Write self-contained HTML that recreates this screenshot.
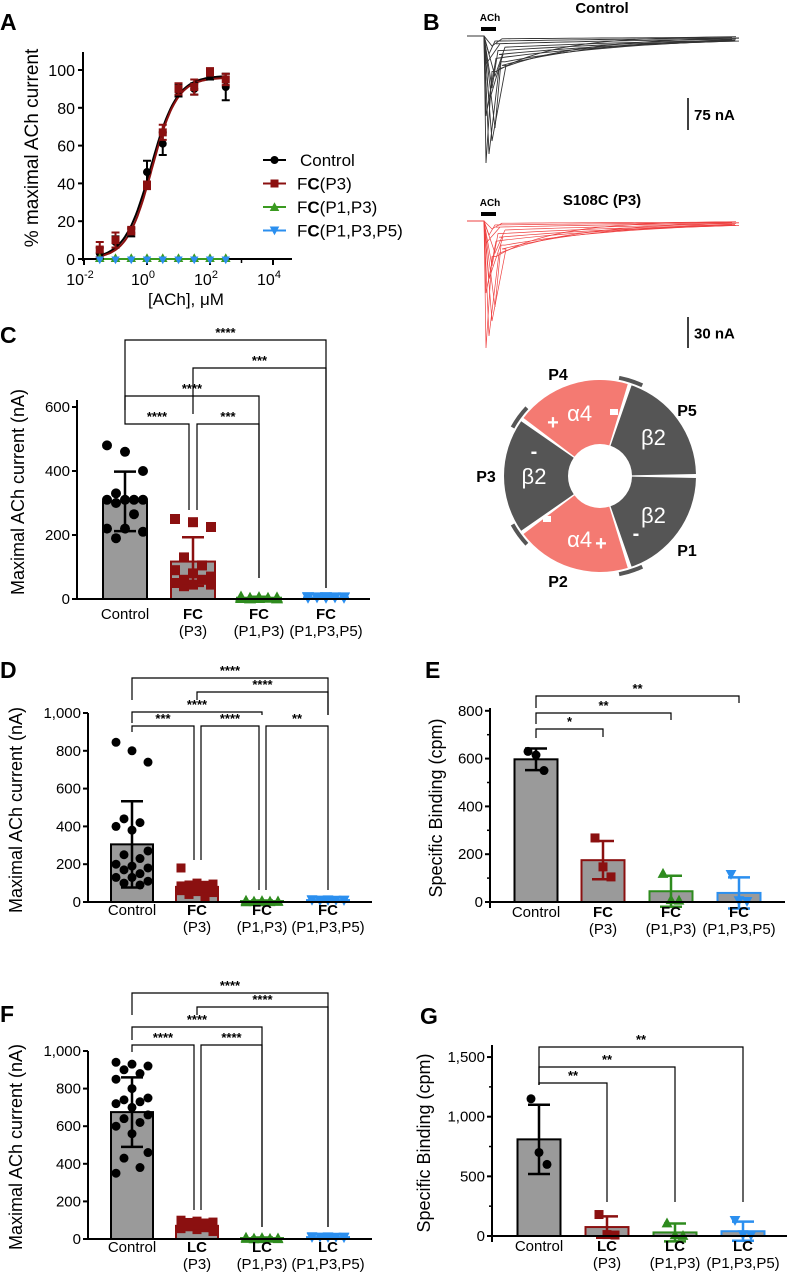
<!DOCTYPE html>
<html><head><meta charset="utf-8"><style>
body{margin:0;background:#fff}
svg{display:block;font-family:"Liberation Sans",Arial,sans-serif}
.n{font-family:"Liberation Sans Narrow","Liberation Sans",sans-serif}
</style></head><body>
<svg id="fig" width="791" height="1274" viewBox="0 0 791 1274">
<g font-weight="bold" font-size="23">
<text x="0" y="30">A</text><text x="423" y="30">B</text><text x="0" y="343">C</text>
<text x="0" y="678">D</text><text x="425" y="678">E</text><text x="0" y="1022">F</text><text x="420" y="1024">G</text>
</g>
</svg>
<script>
// ---------- Panel A data ----------
const aLogConc=[-1.5,-1,-0.5,0,0.5,1,1.5,2,2.5];
const aControl=[3,9,14,46,61,89,90,97,91];
const aControlErr=[3,3,2,6,6,3,3,2,7];
const aFCP3=[5,10,15,39,67,90,91,99,95];
const aFCP3Err=[4,4,2,2,4,3,4,2,3];
const aFCP1P3=[0,0,0,0,0,0,0,0,0];
const aFCP1P3P5=[0,0,0,0,0,0,0,0,0];
const aYTicks=[0,20,40,60,80,100];
const aXTicks=[-2,0,2,4];
// ---------- Panel C data ----------
const cMeans=[305,117,4,5];
const cSDs=[93,76,3,3];
const cPts=[[480,460,400,330,310,310,310,310,300,265,220,220,210,190],[250,240,225,130,105,90,80,70,60,60,50,45,45,40],[8,6,5,4,4,3,3,2,2],[6,6,5,5,5,4,4,4]];
const cTicks=[0,200,400,600];
// ---------- Panel D data ----------
const dMeans=[305,80,5,10];
const dSDs=[228,25,3,3];
const dPts=[[845,800,740,440,420,400,380,270,250,230,200,190,180,170,150,130,130,110,100,90],[180,100,95,90,88,85,80,75,70,65,60,55,50,40,20],[10,8,6,5,5,4,3,3,2,2,1,1],[12,11,10,10,9,9,8,8,7]];
const dTicks=[0,200,400,600,800,1000];
const dTickLabels=["0","200","400","600","800","1,000"];
// ---------- Panel E data ----------
const eMeans=[597,175,45,38];
const eSDs=[45,80,65,65];
const ePts=[[630,615,550],[268,147,105],[120,10,8],[115,5,2]];
const eTicks=[0,200,400,600,800];
// ---------- Panel F data ----------
const fMeans=[675,70,5,10];
const fSDs=[185,15,3,3];
const fPts=[[940,930,920,900,880,850,800,750,740,730,720,700,660,640,620,600,560,460,430,380,350],[100,95,90,88,85,80,75,70,65,60,55,50,40],[10,8,6,5,4,3,2,2,1],[12,11,10,10,9,8,8,7]];
const fTicks=[0,200,400,600,800,1000];
// ---------- Panel G data ----------
const gMeans=[810,75,30,40];
const gSDs=[290,90,75,80];
const gPts=[[1150,700,600],[180,12,8],[110,10,5],[130,10,5]];
const gTicks=[0,500,1000,1500];
const gTickLabels=["0","500","1,000","1,500"];
// ---------- Panel B trace amplitudes (px) ----------
const bCtrlPeaks=[127,118,105,92,80,66,52,40,28,18,10];
const bRedPeaks=[127,115,100,86,72,58,45,32,22,14,8];

const NS="http://www.w3.org/2000/svg";
const svg=document.getElementById('fig');
function mk(tag,at,parent){const e=document.createElementNS(NS,tag);for(const k in at)e.setAttribute(k,at[k]);(parent||svg).appendChild(e);return e;}
function txt(s,at,parent){const e=mk('text',at,parent);e.textContent=s;return e;}
function grp(name){const g=mk('g',{});


return g;}
const COLS=['#000','#8b1010','#2e8b1e','#2b8fef'];
const FILLS=['#9a9a9a','#9a9a9a','#9a9a9a','#9a9a9a'];
function marker(g,shape,x,y,s,c){
 if(shape===0) return mk('circle',{cx:x,cy:y,r:s,fill:c},g);
 if(shape===1) return mk('rect',{x:x-s,y:y-s,width:2*s,height:2*s,fill:c},g);
 if(shape===2) return mk('polygon',{points:`${x},${y-s*1.2} ${x-s*1.2},${y+s} ${x+s*1.2},${y+s}`,fill:c},g);
 return mk('polygon',{points:`${x},${y+s*1.2} ${x-s*1.2},${y-s} ${x+s*1.2},${y-s}`,fill:c},g);
}

// ================= Panel A =================
(function(){
 const g=grp('dose-response-chart');
 const X=v=>147+v*31.5, Y=v=>259-v*1.89;
 mk('line',{x1:83,y1:52,x2:83,y2:261,stroke:'#000','stroke-width':2},g);
 mk('line',{x1:82,y1:259,x2:292,y2:259,stroke:'#000','stroke-width':2},g);
 aYTicks.forEach(t=>{mk('line',{x1:78,y1:Y(t),x2:83,y2:Y(t),stroke:'#000','stroke-width':2},g);
  txt(String(t),{x:75,y:Y(t)+6,'text-anchor':'end','font-size':16},g);});
 aXTicks.forEach(t=>{mk('line',{x1:X(t),y1:259,x2:X(t),y2:265,stroke:'#000','stroke-width':2},g);
  const e=txt('10',{x:X(t)-4,y:285,'text-anchor':'middle','font-size':16},g);
  const s=mk('tspan',{dy:-7,'font-size':11},e);s.textContent=String(t);});
 [-1,1,3].forEach(t=>mk('line',{x1:X(t),y1:259,x2:X(t),y2:263,stroke:'#000','stroke-width':1.5},g));
 const yt=txt('% maximal ACh current',{x:0,y:0,'text-anchor':'middle','font-size':19,transform:'translate(38,148) rotate(-90)'},g);
 
 txt('[ACh], μM',{x:186,y:305,'text-anchor':'middle','font-size':17},g);
 const hill=(x,top,ec,n)=>top/(1+Math.pow(10,(ec-x)*n));
 [[97,0.12,1.05,'#000'],[96,0.16,1.1,'#8b1010']].forEach(p=>{let d='';
  for(let x=-1.5;x<=2.5;x+=0.05)d+=(d?'L':'M')+X(x).toFixed(1)+','+Y(hill(x,p[0],p[1],p[2])).toFixed(1);
  mk('path',{d,fill:'none',stroke:p[3],'stroke-width':2},g);});
 mk('line',{x1:X(-1.5),y1:Y(0),x2:X(2.5),y2:Y(0),stroke:'#3a9a20','stroke-width':2},g);
 [[aControl,aControlErr,0],[aFCP3,aFCP3Err,1]].forEach(([v,e,k])=>{
  aLogConc.forEach((lc,i)=>{const x=X(lc);
   mk('path',{d:`M${x},${Y(v[i]+e[i])}V${Y(v[i]-e[i])}M${x-4},${Y(v[i]+e[i])}h8M${x-4},${Y(v[i]-e[i])}h8`,stroke:COLS[k],'stroke-width':2,fill:'none'},g);
   marker(g,k,x,Y(v[i]),4,COLS[k]);});});
 aLogConc.forEach((lc,i)=>{marker(g,2,X(lc),Y(aFCP1P3[i])-1,4,'#3a9a20');marker(g,3,X(lc),Y(aFCP1P3P5[i])+1,3.5,'#2b8fef');});
 const leg=[['Control','',0,'#000'],['F','C(P3)',1,'#8b1010'],['F','C(P1,P3)',2,'#3a9a20'],['F','C(P1,P3,P5)',3,'#2b8fef']];
 leg.forEach((l,i)=>{const y=160+i*23.5;const lg=mk('g',{},g);
  
  
  mk('line',{x1:263,y1:y,x2:286,y2:y,stroke:l[3],'stroke-width':2},lg);marker(lg,l[2],274.5,y,4,l[3]);
  const t=txt('',{x:i?297:300,y:y+6,'font-size':17},lg);
  if(i===0)t.textContent='Control';else{const a=mk('tspan',{},t);a.textContent='F';const b=mk('tspan',{'font-weight':'bold'},t);b.textContent='C';const c=mk('tspan',{},t);c.textContent=l[1].slice(1);}});
})();

// ================= Panel B =================
(function(){
 const g=grp('current-traces');
 function traces(base,peaks,col,title,ty,sy1,sy2,slab,w){
  txt(title,{x:602,y:ty,'text-anchor':'middle','font-size':15,'font-weight':'bold'},g);
  txt('ACh',{x:490,y:base-15,'text-anchor':'middle','font-size':10,'font-weight':'bold'},g);
  mk('rect',{x:481,y:base-9,width:15,height:4,fill:'#000'},g);
  peaks.forEach((p,i)=>{const px=486+(i%4)*3;const plateau=p*0.28;const tau=60+i*25;
   let d=`M467,${base}L484,${base}L${px},${base+p}L${px+6+i%3*4},${base+plateau}`;
   for(let x=px+10;x<=740;x+=10)d+=`L${x},${(base+plateau*Math.exp(-(x-px-10)/tau)).toFixed(1)}`;
   mk('path',{d,fill:'none',stroke:col,'stroke-width':w},g);});
  mk('line',{x1:688,y1:sy1,x2:688,y2:sy2,stroke:'#000','stroke-width':1.5},g);
  txt(slab,{x:694,y:(sy1+sy2)/2+6,'font-size':15,'font-weight':'bold'},g);
 }
 traces(36,bCtrlPeaks,'#333','Control',13,98,130,'75 nA',0.9);
 traces(221,bRedPeaks,'#ee4040','S108C (P3)',205,317,348,'30 nA',0.7);
})();

// ================= Diagram =================
(function(){
 const g=grp('receptor-diagram');
 const cx=600,cy=476,R=96,r=32;
 const pt=(a,rad)=>[cx+rad*Math.cos(a*Math.PI/180),cy+rad*Math.sin(a*Math.PI/180)];
 const segs=[[0,'#555','β2'],[72,'#f47a72','α4'],[144,'#555','β2'],[216,'#f47a72','α4'],[288,'#555','β2']];
 segs.forEach(([a0,c,lab])=>{const a1=a0+72-1.2,s=a0+1.2;
  const [x1,y1]=pt(s,R),[x2,y2]=pt(a1,R),[x3,y3]=pt(a1,r),[x4,y4]=pt(s,r);
  const p=mk('path',{d:`M${x1},${y1}A${R},${R} 0 0 1 ${x2},${y2}L${x3},${y3}A${r},${r} 0 0 0 ${x4},${y4}Z`,fill:c,'stroke-linejoin':'round'},g);
  
  const [tx,ty]=pt(a0+36,66);
  txt(lab,{x:tx,y:ty+8,'text-anchor':'middle','font-size':22,fill:'#fff'},g);});
 [72,144,216,288].forEach(a=>{const [x1,y1]=pt(a-7,100),[x2,y2]=pt(a+7,100);
  mk('path',{d:`M${x1},${y1}A100,100 0 0 1 ${x2},${y2}`,fill:'none',stroke:'#555','stroke-width':4},g);});
 [['+',553,429],['-',534,458],['-',636,540],['+',601,550]].forEach(s=>txt(s[0],{x:s[1],y:s[2],'text-anchor':'middle','font-size':20,'font-weight':'bold',fill:'#fff'},g));
 [[614,412],[547,519]].forEach(p=>mk('rect',{x:p[0]-4,y:p[1]-3,width:8,height:6,fill:'#fff'},g));
 [['P4',558,380],['P5',687,416],['P3',486,482],['P1',687,556],['P2',558,587]].forEach(s=>txt(s[0],{x:s[1],y:s[2],'text-anchor':'middle','font-size':16,'font-weight':'bold'},g));
})();

// ================= generic bar panel =================
function barPanel(name,o){
 const g=grp(name);
 const Y=v=>o.y0-v*o.k;
 if(o.narrow)g.setAttribute('class','n');
 mk('line',{x1:o.ax,y1:o.top,x2:o.ax,y2:o.y0+(o.below||0),stroke:'#000','stroke-width':2},g);
 o.ticks.forEach((t,i)=>{mk('line',{x1:o.ax-5,y1:Y(t),x2:o.ax,y2:Y(t),stroke:'#000','stroke-width':2},g);
  txt(o.tickLabels?o.tickLabels[i]:String(t),{x:o.ax-7,y:Y(t)+5,'text-anchor':'end','font-size':o.fs},g);
  if(o.minor&&i<o.ticks.length-1){const m=(t+o.ticks[i+1])/2;mk('line',{x1:o.ax-3,y1:Y(m),x2:o.ax,y2:Y(m),stroke:'#000','stroke-width':1.5},g);}});
 const yt=txt(o.ytitle,{x:0,y:0,'text-anchor':'middle','font-size':o.tfs,transform:`translate(${o.tx},${o.ty}) rotate(-90)`},g);
 
 o.centers.forEach((c,i)=>{const m=o.means[i],sd=o.sds[i];
  const b=mk('rect',{x:c-o.bw/2,y:Y(m),width:o.bw,height:Math.max(0.5,m*o.k),fill:FILLS[i],stroke:COLS[i],'stroke-width':2},g);
  
  o.pts[i].forEach((v,j)=>{const off=((j*7)%5-2)*o.sp;
   marker(g,i,c+off,Y(v),o.ms,COLS[i]);});
  mk('path',{d:`M${c},${Y(m+sd)}V${Y(Math.max(m-sd,-sd))}M${c-11},${Y(m+sd)}h22M${c-11},${Y(m-sd)}h22`,stroke:COLS[i],'stroke-width':2.5,fill:'none'},g);
  const l1=txt('',{x:c,y:o.ly,'text-anchor':'middle','font-size':o.fs},g);
  if(i===0)l1.textContent='Control';else{const a=mk('tspan',{'font-weight':'bold'},l1);a.textContent=o.pre[0];const b=mk('tspan',{'font-weight':'bold'},l1);b.textContent=o.pre[1];
   txt(o.sub[i],{x:c,y:o.ly+17,'text-anchor':'middle','font-size':o.fs},g);}
 });
 mk('line',{x1:o.ax-1,y1:o.y0,x2:o.right,y2:o.y0,stroke:'#000','stroke-width':2},g);
 o.brackets.forEach(b=>{const [i,j,y,s,lb,rb]=b;const x1=o.centers[i]+(b[6]||0),x2=o.centers[j]+(b[7]||0);
  mk('path',{d:`M${x1},${lb}V${y}H${x2}V${rb}`,fill:'none',stroke:'#000','stroke-width':1.2},g);
  txt(s,{x:(x1+x2)/2,y:y-3,'text-anchor':'middle','font-size':13,'font-weight':'bold'},g);});
}
const SUB=['','(P3)','(P1,P3)','(P1,P3,P5)'];
barPanel('bar-chart-c',{ax:77,y0:599,k:0.32,top:400,right:370,ticks:cTicks,fs:15,tfs:18,ytitle:'Maximal ACh current (nA)',tx:24,ty:492,
 centers:[125,193,259,326],bw:44,means:cMeans,sds:cSDs,pts:cPts,ms:5,sp:9,ly:619,pre:['F','C'],sub:SUB,
 brackets:[[0,3,340,'****',410,588],[1,3,368,'***',414,588],[0,2,396,'****',410,578],[0,1,424,'****',410,510,0,-4],[1,2,424,'***',510,578,4,0]]});
barPanel('bar-chart-d',{ax:88,y0:902,k:0.189,top:713,right:372,ticks:dTicks,tickLabels:dTickLabels,fs:15,tfs:18,ytitle:'Maximal ACh current (nA)',tx:22,ty:810,narrow:true,
 centers:[132,197,262,328],bw:42,means:dMeans,sds:dSDs,pts:dPts,ms:4.5,sp:8,ly:915,pre:['F','C'],sub:SUB,
 brackets:[[0,3,678,'****',700,715],[1,3,692,'****',700,715],[0,2,712,'****',723,715],[0,1,726,'***',732,860,0,-3],[1,2,726,'****',860,890,4,-3],[2,3,726,'**',890,890,4,0]]});
barPanel('bar-chart-e',{ax:490,y0:902,k:0.239,top:708,right:785,below:6,ticks:eTicks,minor:true,fs:15,tfs:18,ytitle:'Specific Binding (cpm)',tx:442,ty:808,narrow:true,
 centers:[536,603,671,739],bw:43,means:eMeans,sds:eSDs,pts:ePts,ms:4.5,sp:4,ly:917,pre:['F','C'],sub:SUB,
 brackets:[[0,3,696,'**',708,703],[0,2,713,'**',724,720],[0,1,729,'*',738,737]]});
barPanel('bar-chart-f',{ax:88,y0:1239,k:0.188,top:1051,right:372,ticks:fTicks,tickLabels:dTickLabels,fs:15,tfs:18,ytitle:'Maximal ACh current (nA)',tx:22,ty:1147,narrow:true,
 centers:[132,197,262,328],bw:42,means:fMeans,sds:fSDs,pts:fPts,ms:4.5,sp:8,ly:1252,pre:['L','C'],sub:SUB,
 brackets:[[0,3,993,'****',1015,1227],[1,3,1007,'****',1015,1227],[0,2,1027,'****',1040,1227],[0,1,1045,'****',1052,1210,0,-3],[1,2,1045,'****',1210,1227,4,0]]});
barPanel('bar-chart-g',{ax:492,y0:1236,k:0.1193,top:1045,right:787,below:6,ticks:gTicks,tickLabels:gTickLabels,minor:true,fs:15,tfs:18,ytitle:'Specific Binding (cpm)',tx:430,ty:1143,narrow:true,
 centers:[539,607,675,743],bw:43,means:gMeans,sds:gSDs,pts:gPts,ms:4.5,sp:4,ly:1251,pre:['L','C'],sub:SUB,
 brackets:[[0,3,1047,'**',1085,1202],[0,2,1067,'**',1085,1202],[0,1,1083,'**',1085,1202]]});
</script>
</body></html>
